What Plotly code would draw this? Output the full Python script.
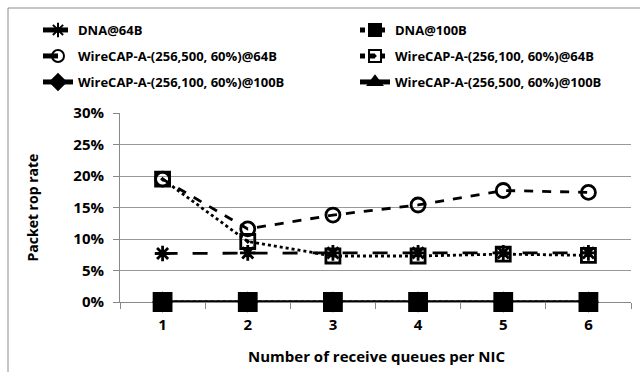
import plotly.graph_objects as go

queues = ["1", "2", "3", "4", "5", "6"]
dna_64 = [7.7, 7.8, 7.8, 7.8, 7.8, 7.8]
dna_100 = [0, 0, 0, 0, 0, 0]
wc500_64 = [19.5, 11.6, 13.8, 15.4, 17.7, 17.4]
wc100_64 = [19.5, 9.6, 7.3, 7.3, 7.6, 7.4]
wc100_100 = [0, 0, 0, 0, 0, 0]
wc500_100 = [0, 0, 0, 0, 0, 0]
y_ticks = [0, 5, 10, 15, 20, 25, 30]
y_labels = ["0%", "5%", "10%", "15%", "20%", "25%", "30%"]

FONT = "Open Sans"
BLK = "#000000"

series = [
    ("DNA@64B", dna_64, "longdash", "asterisk-open", 13, "legend"),
    ("DNA@100B", dna_100, "dot", "square", 17, "legend2"),
    ("WireCAP-A-(256,500, 60%)@64B", wc500_64, "dash", "circle-open", 14, "legend3"),
    ("WireCAP-A-(256,100, 60%)@64B", wc100_64, "dot", "square-open-dot", 14, "legend4"),
    ("WireCAP-A-(256,100, 60%)@100B", wc100_100, "solid", "diamond", 13, "legend5"),
    ("WireCAP-A-(256,500, 60%)@100B", wc500_100, "solid", "triangle-up", 13, "legend6"),
]

fig = go.Figure()
for name, vals, dash, sym, size, lg in series:
    fig.add_trace(go.Scatter(
        x=queues, y=vals, name="<b>" + name + "</b>", mode="lines+markers",
        line=dict(color=BLK, width=2.8, dash=dash),
        marker=dict(symbol=sym, size=size, color=BLK,
                    line=dict(color=BLK, width=2.8)),
        legend=lg, hoverinfo="skip", cliponaxis=False,
    ))

L, R, T, B = 120, 9, 113, 70
W, H = 640, 372
pw, ph = W - L - R, H - T - B

def px(x):
    return (x - L) / pw

def py(y):
    return (H - B - y) / ph

legend_pos = {
    "legend": (38, 30), "legend2": (355, 30),
    "legend3": (38, 56), "legend4": (355, 56),
    "legend5": (38, 82), "legend6": (355, 82),
}
lay = {}
for k, (x, y) in legend_pos.items():
    lay[k] = dict(x=px(x), y=py(y), xanchor="left", yanchor="middle",
                  bgcolor="rgba(0,0,0,0)", borderwidth=0, itemsizing="constant",
                  font=dict(family=FONT, size=13, color=BLK))

fig.update_layout(
    width=W, height=H,
    margin=dict(l=L, r=R, t=T, b=B, autoexpand=False),
    paper_bgcolor="white", plot_bgcolor="white",
    showlegend=True,
    font=dict(family=FONT, size=13, color=BLK),
    **lay,
)

fig.update_xaxes(
    type="category", tickson="boundaries", ticks="outside", ticklen=6,
    tickcolor="#888888", showline=True, linecolor="#888888", linewidth=1,
    showgrid=False, zeroline=False, layer="below traces",
    tickvals=queues, ticktext=["<b>" + q + "</b>" for q in queues],
    tickfont=dict(family=FONT, size=15, color=BLK),
    ticklabelstandoff=9,
    range=[-0.5, 5.5],
)
fig.update_yaxes(
    range=[0, 30], tickvals=y_ticks, ticktext=["<b>" + t + "</b>" for t in y_labels],
    ticks="outside", ticklen=6, tickcolor="#888888",
    showline=True, linecolor="#888888", linewidth=1, layer="below traces",
    showgrid=True, gridcolor="#999999", gridwidth=1, zeroline=False,
    tickfont=dict(family=FONT, size=15, color=BLK),
    ticklabelstandoff=6,
)

fig.add_annotation(text="<b>Packet rop rate</b>", x=px(32), y=0.5, xref="paper", yref="paper",
                   xanchor="center", yanchor="middle",
                   textangle=-90, showarrow=False,
                   font=dict(family=FONT, size=14, color=BLK))
fig.add_annotation(text="<b>Number of receive queues per NIC</b>", x=px(376), y=py(356),
                   xref="paper", yref="paper", xanchor="center", yanchor="middle",
                   showarrow=False,
                   font=dict(family=FONT, size=15, color=BLK))

fig.add_shape(type="rect", xref="paper", yref="paper",
              x0=px(8), x1=px(700), y0=py(420), y1=py(8),
              line=dict(color="#8c8c8c", width=1), fillcolor="rgba(0,0,0,0)",
              layer="below")

fig.write_html("out.html", config={"displayModeBar": False},
               post_script="document.body.style.margin='0';")
